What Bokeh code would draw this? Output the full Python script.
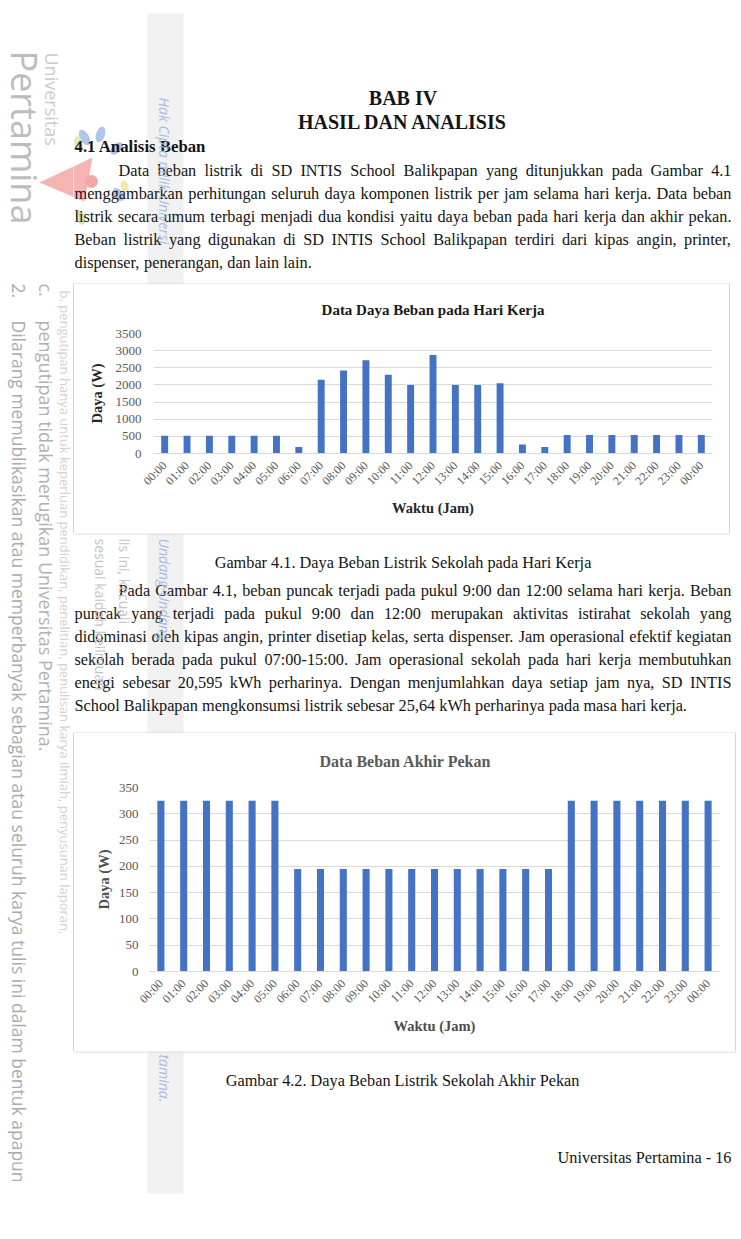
import math
from bokeh.plotting import figure
from bokeh.layouts import column, row
from bokeh.models import Range1d, FixedTicker, Spacer
from bokeh.core.properties import value
from bokeh.embed import file_html
from bokeh.resources import INLINE

# ------------------------------------------------------------------ data
hours = ["00:00", "01:00", "02:00", "03:00", "04:00", "05:00", "06:00", "07:00",
         "08:00", "09:00", "10:00", "11:00", "12:00", "13:00", "14:00", "15:00",
         "16:00", "17:00", "18:00", "19:00", "20:00", "21:00", "22:00", "23:00", "00:00"]
weekday_power = [520, 520, 520, 520, 520, 520, 190, 2150, 2420, 2720, 2300, 2000, 2870,
                 2000, 2000, 2050, 260, 190, 540, 540, 540, 540, 540, 540, 540]
weekend_power = [325, 325, 325, 325, 325, 325, 195, 195, 195, 195, 195, 195, 195,
                 195, 195, 195, 195, 195, 325, 325, 325, 325, 325, 325, 325]
weekday_yticks = [0, 500, 1000, 1500, 2000, 2500, 3000, 3500]
weekend_yticks = [0, 50, 100, 150, 200, 250, 300, 350]
chart1_title = "Data Daya Beban pada Hari Kerja"
chart2_title = "Data Beban Akhir Pekan"
y_title = "Daya (W)"
x_title = "Waktu (Jam)"

heading_lines = ["BAB IV", "HASIL DAN ANALISIS"]
section_title = "4.1 Analisis Beban"
para1 = [
    "Data beban listrik di SD INTIS School Balikpapan yang ditunjukkan pada Gambar 4.1",
    "menggambarkan perhitungan seluruh daya komponen listrik per jam selama hari kerja. Data beban",
    "listrik secara umum terbagi menjadi dua kondisi yaitu daya beban pada hari kerja dan akhir pekan.",
    "Beban listrik yang digunakan di SD INTIS School Balikpapan terdiri dari kipas angin, printer,",
    "dispenser, penerangan, dan lain lain.",
]
caption1 = "Gambar 4.1. Daya Beban Listrik Sekolah pada Hari Kerja"
para2 = [
    "Pada Gambar 4.1, beban puncak terjadi pada pukul 9:00 dan 12:00 selama hari kerja. Beban",
    "puncak yang terjadi pada pukul 9:00 dan 12:00 merupakan aktivitas istirahat sekolah yang",
    "didominasi oleh kipas angin, printer disetiap kelas, serta dispenser. Jam operasional efektif kegiatan",
    "sekolah berada pada pukul 07:00-15:00. Jam operasional sekolah pada hari kerja membutuhkan",
    "energi sebesar 20,595 kWh perharinya. Dengan menjumlahkan daya setiap jam nya, SD INTIS",
    "School Balikpapan mengkonsumsi listrik sebesar 25,64 kWh perharinya pada masa hari kerja.",
]
caption2 = "Gambar 4.2. Daya Beban Listrik Sekolah Akhir Pekan"
footer = "Universitas Pertamina - 16"

wm_logo_small = "Universitas"
wm_logo_big = "Pertamina"
wm_num2 = "2."
wm_line2 = "Dilarang memublikasikan atau memperbanyak sebagian atau seluruh karya tulis ini dalam bentuk apapun"
wm_numc = "c."
wm_linec = "pengutipan tidak merugikan Universitas Pertamina."
wm_lineb = "b. pengutipan hanya untuk keperluan pendidikan, penelitian, penulisan karya ilmiah, penyusunan laporan,"
wm_mid_a = "sesuai kaidah keilmuan"
wm_mid_b = "lis ini, kecuali"
wm_band1 = "Hak Cipta milik Universi"
wm_band2 = "Undang-Undang"
wm_band3 = "tamina."

# ------------------------------------------------------------------ layout constants
W, H = 741, 1239
SERIF = "Liberation Serif"
SANS = "Open Sans"
BAR = "#4472C4"
GRID = "#d9d9d9"
FRAME = "#d4d4d4"

LM, RM, INDENT_X = 74, 731, 118
LS = 23
Y_BAB, Y_HASIL, Y_SEC = 97, 121, 146
P1_Y0, CAP1_Y, P2_Y0, CAP2_Y, FOOT_Y = 170, 562, 590, 1080, 1157
CENTER_X = 402.5

TIMES = {}
for c, w in zip("ABCDEFGHIJKLMNOPQRSTUVWXYZ",
                [722, 667, 667, 722, 611, 556, 722, 722, 333, 389, 722, 611, 889, 722, 722, 556,
                 722, 667, 556, 611, 722, 722, 944, 722, 722, 611]):
    TIMES[c] = w
for c, w in zip("abcdefghijklmnopqrstuvwxyz",
                [444, 500, 444, 500, 444, 333, 500, 500, 278, 278, 500, 278, 778, 500, 500, 500,
                 500, 333, 389, 278, 500, 500, 722, 500, 500, 444]):
    TIMES[c] = w
for c in "0123456789":
    TIMES[c] = 500
TIMES.update({" ": 250, ".": 250, ",": 250, ":": 278, ";": 278, "-": 333, "(": 333, ")": 333})


def text_w(s, size):
    return sum(TIMES.get(c, 500) for c in s) * size / 1000.0


just_lines = ([(para1[0], INDENT_X)] + [(l, LM) for l in para1[1:-1]] +
              [(para2[0], INDENT_X)] + [(l, LM) for l in para2[1:-1]])
BODY = min(16.5, min((RM - x0) / text_w(l, 1.0) for l, x0 in just_lines) * 0.99)


def T(x, y, text, size, font=SERIF, style="normal", color="#141414", align="left",
      angle=0.0, kind="h"):
    return dict(x=x, y=y, text=text, size=size, font=font, style=style, color=color,
                align=align, angle=angle, kind=kind)


def para_items(lines, y0):
    out = []
    for i, line in enumerate(lines):
        x0 = INDENT_X if i == 0 else LM
        y = y0 + i * LS
        words = line.split(" ")
        widths = [text_w(w, BODY) for w in words]
        if i < len(lines) - 1:
            gap = (RM - x0 - sum(widths)) / (len(words) - 1)
        else:
            gap = text_w(" ", BODY)
        x = x0
        for w, wd in zip(words, widths):
            out.append(T(x, y, w, BODY))
            x += wd + gap
    return out


items = []
items.append(T(CENTER_X, Y_BAB, heading_lines[0], 20, style="bold", align="center"))
items.append(T(CENTER_X, Y_HASIL, heading_lines[1], 20, style="bold", align="center"))
items.append(T(LM, Y_SEC, section_title, BODY + 0.5, style="bold"))
items += para_items(para1, P1_Y0)
items.append(T(CENTER_X, CAP1_Y, caption1, BODY, align="center"))
items += para_items(para2, P2_Y0)
items.append(T(CENTER_X, CAP2_Y, caption2, BODY, align="center"))
items.append(T(RM, FOOT_Y, footer, BODY, align="right"))

# watermark (vertical, reading downward)
DOWN = -math.pi / 2
items.append(T(24, 50, wm_logo_big, 36, font=SANS, color="#bdbdbd", angle=DOWN, kind="v"))
items.append(T(51, 52, wm_logo_small, 18, font=SANS, color="#cbcbcb", angle=DOWN, kind="v"))
items.append(T(18, 283, wm_num2, 17.5, font=SANS, color="#ababab", angle=DOWN, kind="v"))
items.append(T(18, 320, wm_line2, 17.5, font=SANS, color="#ababab", angle=DOWN, kind="v"))
items.append(T(45, 283, wm_numc, 18, font=SANS, color="#b1b1b1", angle=DOWN, kind="v"))
items.append(T(45, 320, wm_linec, 18, font=SANS, color="#b1b1b1", angle=DOWN, kind="v"))
items.append(T(64, 290, wm_lineb, 13, font=SANS, color="#d2d2d2", angle=DOWN, kind="v"))
items.append(T(100, 538, wm_mid_a, 14, font=SANS, color="#c4c4c4", angle=DOWN, kind="v"))
items.append(T(124, 538, wm_mid_b, 14, font=SANS, color="#c4c4c4", angle=DOWN, kind="v"))
items.append(T(164, 97, wm_band1, 14, font=SANS, style="italic", color="#a9bbe2", angle=DOWN, kind="v"))
items.append(T(164, 538, wm_band2, 14, font=SANS, style="italic", color="#a9bbe2", angle=DOWN, kind="v"))
items.append(T(164, 1054, wm_band3, 14, font=SANS, style="italic", color="#a9bbe2", angle=DOWN, kind="v"))

# chart frame edges (page pixels): (left, right, top, bottom)
FRAME_EDGES = [(73, 730, 283, 284), (73, 730, 533, 534), (73, 736, 732, 733), (73, 736, 1051, 1052)]


def visible(it, x0, x1, y0, y1):
    if it["kind"] == "h":
        s = it["size"]
        w = text_w(it["text"], s)
        if it["align"] == "left":
            a, b = it["x"], it["x"] + w
        elif it["align"] == "center":
            a, b = it["x"] - w / 2, it["x"] + w / 2
        else:
            a, b = it["x"] - w, it["x"]
        return (y0 < it["y"] < y1) and b > x0 and a < x1
    return (x0 < it["x"] < x1) and (y0 < it["y"] < y1)


def page_fig(x0, x1, y0, y1):
    p = figure(width=x1 - x0, height=y1 - y0, x_range=Range1d(x0, x1), y_range=Range1d(-y1, -y0),
               output_backend="svg", toolbar_location=None, x_axis_location=None,
               y_axis_location=None, min_border=0, outline_line_color=None,
               background_fill_color="white", border_fill_color="white")
    p.grid.grid_line_color = None
    # faint watermark band
    p.quad(left=[147], right=[183], top=[-13], bottom=[-1193], fill_color="#f1f1f1", line_color=None)
    # logo symbol
    p.patch(x=[39, 92, 84], y=[-182, -157, -201], fill_color="#f4b4b4", line_color=None)
    p.ellipse(x=[84, 100, 116, 91, 118, 80, 124, 78],
              y=[-137, -134, -148, -181, -194, -217, -186, -143],
              width=[9, 9, 9, 13, 9, 9, 8, 8], height=[17, 16, 15, 13, 15, 15, 12, 15],
              angle=[0.5, -0.3, -0.8, 0, 0.7, 0.4, 0.2, 0.2],
              fill_color=["#b0c5ec", "#b0c5ec", "#b0c5ec", "#f2a8a8", "#b0c5ec", "#d3e4ae",
                          "#f2e8b0", "#dcebb8"],
              line_color=None)
    # chart frame edges
    p.quad(left=[e[0] for e in FRAME_EDGES], right=[e[1] for e in FRAME_EDGES],
           top=[-e[2] for e in FRAME_EDGES], bottom=[-e[3] for e in FRAME_EDGES],
           fill_color=FRAME, line_color=None)
    groups = {}
    for it in items:
        if not visible(it, x0, x1, y0, y1):
            continue
        key = (it["font"], it["size"], it["style"], it["color"], it["align"], it["angle"])
        g = groups.setdefault(key, {"x": [], "y": [], "t": []})
        g["x"].append(it["x"])
        g["y"].append(-it["y"])
        g["t"].append(it["text"])
    for key, g in groups.items():
        font, size, style, color, align, angle = key
        p.text(x=g["x"], y=g["y"], text=g["t"], text_font=value(font), text_font_size=f"{size}px",
               text_font_style=style, text_color=color, text_align=align, text_baseline="middle",
               angle=angle)
    return p


def make_chart(values, yticks, title, fw, fh, mbl, mbr, mbt, mbb, title_color, title_size,
               title_standoff, title_align, title_offset, axt_color, ylab_standoff,
               ytitle_standoff, xtitle_standoff):
    xs = list(range(len(hours)))
    p = figure(width=fw, height=fh, x_range=Range1d(-0.5, len(hours) - 0.5),
               y_range=Range1d(yticks[0], yticks[-1]), output_backend="svg",
               toolbar_location=None, min_border_left=mbl, min_border_right=mbr,
               min_border_top=mbt, min_border_bottom=mbb, outline_line_color=None,
               background_fill_color="white", border_fill_color="white", title=title)
    p.vbar(x=xs, top=values, width=0.31, fill_color=BAR, line_color=None)
    p.title.align = title_align
    p.title.offset = title_offset
    p.title.text_font = SERIF
    p.title.text_font_size = f"{title_size}px"
    p.title.text_font_style = "bold"
    p.title.text_color = title_color
    p.title.standoff = title_standoff

    p.yaxis.ticker = FixedTicker(ticks=yticks)
    p.ygrid.ticker = FixedTicker(ticks=yticks)
    p.ygrid.grid_line_color = GRID
    p.xgrid.grid_line_color = None
    p.yaxis.axis_line_color = None
    p.yaxis.major_tick_line_color = None
    p.yaxis.minor_tick_line_color = None
    p.yaxis.major_tick_out = 0
    p.yaxis.major_tick_in = 0
    p.yaxis.major_label_standoff = ylab_standoff
    p.yaxis.major_label_text_font = SERIF
    p.yaxis.major_label_text_font_size = "13px"
    p.yaxis.major_label_text_color = "#595959"
    p.yaxis.axis_label = y_title
    p.yaxis.axis_label_text_font = SERIF
    p.yaxis.axis_label_text_font_size = "14.5px"
    p.yaxis.axis_label_text_font_style = "bold"
    p.yaxis.axis_label_text_color = axt_color
    p.yaxis.axis_label_standoff = ytitle_standoff

    p.xaxis.ticker = FixedTicker(ticks=xs)
    p.xaxis.major_label_overrides = {i: h for i, h in enumerate(hours)}
    p.xaxis.major_label_orientation = math.pi / 4
    p.xaxis.axis_line_color = GRID
    p.xaxis.major_tick_line_color = None
    p.xaxis.minor_tick_line_color = None
    p.xaxis.major_label_standoff = 4
    p.xaxis.major_label_text_font = SERIF
    p.xaxis.major_label_text_font_size = "12px"
    p.xaxis.major_label_text_color = "#595959"
    p.xaxis.axis_label = x_title
    p.xaxis.axis_label_text_font = SERIF
    p.xaxis.axis_label_text_font_size = "14.5px"
    p.xaxis.axis_label_text_font_style = "bold"
    p.xaxis.axis_label_text_color = axt_color
    p.xaxis.axis_label_standoff = xtitle_standoff
    return p


def edge(h):
    return Spacer(width=1, height=h, styles={"background-color": FRAME})


left = page_fig(0, 73, 0, H)
top = page_fig(73, W, 0, 284)
mid = page_fig(73, W, 533, 733)
bottom = page_fig(73, W, 1051, H)

c1 = make_chart(weekday_power, weekday_yticks, chart1_title, 655, 249, 79, 17, 48, 80,
                "#1a1a1a", 15, 31, "center", 0, "#262626", 12, 8, 4)
c2 = make_chart(weekend_power, weekend_yticks, chart2_title, 661, 318, 75, 16, 54, 80,
                "#595959", 16, 35, "left", 170, "#4d4d4d", 11, 4, 4)

row1 = row(edge(249), c1, edge(249), Spacer(width=11, height=249))
row2 = row(edge(318), c2, edge(318), Spacer(width=5, height=318))
right = column(top, row1, mid, row2, bottom)
layout = row(left, right)
open("out.html", "w").write(file_html(layout, INLINE))
